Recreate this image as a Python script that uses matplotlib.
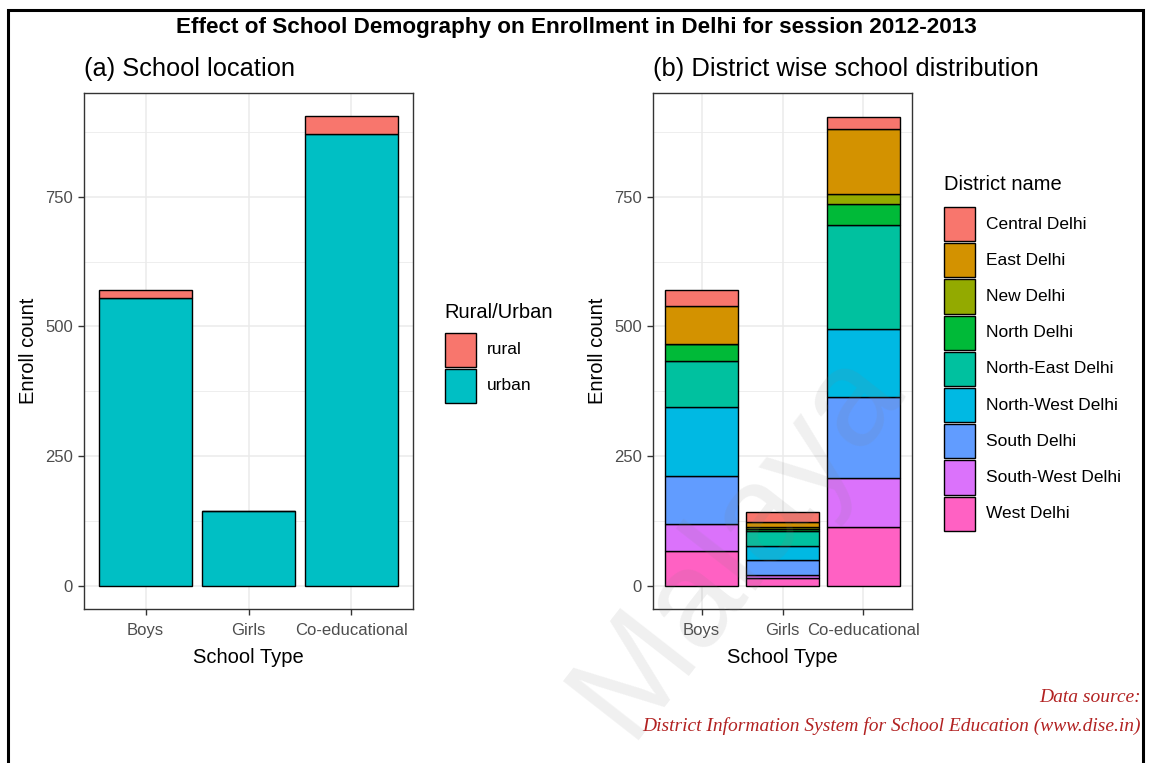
import numpy as np
import matplotlib

matplotlib.use("Agg")
import matplotlib.pyplot as plt
from matplotlib.patches import Rectangle

school_types = ["Boys", "Girls", "Co-educational"]

# enrolment by location
rural = [15, 0, 33]
urban = [555, 143, 872]

# enrolment by district (Boys, Girls, Co-educational)
districts = [
    "Central Delhi", "East Delhi", "New Delhi", "North Delhi", "North-East Delhi",
    "North-West Delhi", "South Delhi", "South-West Delhi", "West Delhi",
]
central = [31, 19, 22]
east = [73, 10, 125]
new_delhi = [0, 2, 19]
north = [33, 4, 42]
north_east = [88, 30, 201]
north_west = [134, 27, 131]
south = [92, 28, 156]
south_west = [52, 7, 94]
west = [67, 14, 113]
district_counts = [central, east, new_delhi, north, north_east,
                   north_west, south, south_west, west]

location_labels = ["rural", "urban"]
hue2 = ["#F8766D", "#00BFC4"]
hue9 = ["#F8766D", "#D39200", "#93AA00", "#00BA38", "#00C19F",
        "#00B9E3", "#619CFF", "#DB72FB", "#FF61C3"]

W, H = 1151, 763
plt.rcParams["font.family"] = ["Liberation Sans", "DejaVu Sans"]
fig = plt.figure(figsize=(W / 100, H / 100), dpi=100)


def fx(px):
    return px / W


def fy(py):
    return 1 - py / H


def px_axes(x0, y0, x1, y1):
    return fig.add_axes([fx(x0), fy(y1), (x1 - x0) / W, (y1 - y0) / H])


def style(ax):
    ax.set_xlim(0.4, 3.6)
    ax.set_ylim(-45.25, 950.25)
    ax.set_yticks([0, 250, 500, 750])
    ax.set_yticks([125, 375, 625, 875], minor=True)
    ax.set_xticks([1, 2, 3], school_types)
    ax.grid(True, which="major", color="#EBEBEB", lw=1.1, zorder=0)
    ax.grid(True, which="minor", axis="y", color="#EBEBEB", lw=0.6, zorder=0)
    ax.set_axisbelow(True)
    for s in ax.spines.values():
        s.set_color("#333333")
        s.set_linewidth(1.0)
    ax.tick_params(which="major", length=4, width=1.0, color="#333333",
                   labelcolor="#4D4D4D", labelsize=12, pad=4)
    ax.tick_params(axis="x", which="major", pad=6)
    ax.tick_params(which="minor", length=0)
    ax.set_xlabel("School Type", fontsize=14.5, color="black", labelpad=7)
    ax.set_ylabel("Enroll count", fontsize=14.5, color="black", labelpad=5)


def key_legend(x_title, y_title, x_key, y_key, labels, colors, title, step=36.2):
    fig.text(fx(x_title), fy(y_title), title, fontsize=14.5, ha="left", va="center")
    for i, (lab, col) in enumerate(zip(labels, colors)):
        top = y_key + i * step
        fig.add_artist(Rectangle((fx(x_key), fy(top + step - 2)), 31 / W, (step - 2) / H,
                                 transform=fig.transFigure, facecolor=col,
                                 edgecolor="black", lw=1.0))
        fig.text(fx(x_key + 42), fy(top + (step - 2) / 2), lab, fontsize=12.5,
                 ha="left", va="center")


x = np.arange(1, 4)

# (a) location
ax1 = px_axes(84, 93, 413, 609)
style(ax1)
ax1.bar(x, urban, width=0.9, color=hue2[1], edgecolor="black", lw=1.0, zorder=2)
ax1.bar(x, rural, width=0.9, bottom=urban, color=hue2[0], edgecolor="black", lw=1.0, zorder=2)
ax1.set_title("(a) School location", loc="left", fontsize=18.3, pad=12)
key_legend(444, 313, 445, 333, location_labels, hue2, "Rural/Urban", step=36)

# (b) district wise distribution, stacked West Delhi at the bottom
ax2 = px_axes(653, 93, 912, 609)
style(ax2)
bottom = np.zeros(3)
for name, vals, col in reversed(list(zip(districts, district_counts, hue9))):
    ax2.bar(x, vals, width=0.9, bottom=bottom, color=col, edgecolor="black",
            lw=1.0, zorder=2)
    bottom += np.array(vals)
ax2.set_title("(b) District wise school distribution", loc="left", fontsize=18.4,
              pad=12, x=0.0)
key_legend(944, 185, 944, 207, districts, hue9, "District name")

fig.text(fx(576), fy(27),
         "Effect of School Demography on Enrollment in Delhi for session 2012-2013",
         ha="center", va="center", fontsize=16.2, fontweight="bold")

source_style = dict(ha="right", va="center", color="#B22222", fontsize=14,
                    style="italic", family=["Liberation Serif", "DejaVu Serif"])
fig.text(fx(1141), fy(697), "Data source:", **source_style)
fig.text(fx(1141), fy(726),
         "District Information System for School Education (www.dise.in)",
         **source_style)

# faint watermark running up through the right panel
fig.text(fx(548), fy(758), "Malaya", ha="left", va="bottom", rotation=52,
         fontsize=100, color="#808080", alpha=0.12)

# page frame
fig.add_artist(Rectangle((fx(8), -0.01), (1143 - 8) / W, fy(10) + 0.01,
                         transform=fig.transFigure, fill=False,
                         edgecolor="black", lw=2.2))

fig.savefig("out.png", dpi=100)
